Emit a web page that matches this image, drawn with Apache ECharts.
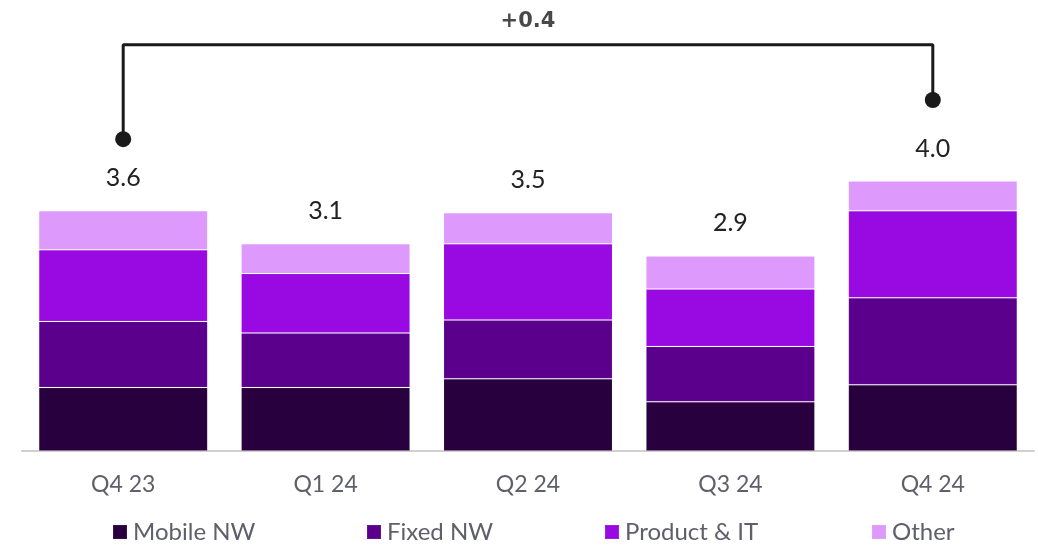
<!DOCTYPE html>
<html>
<head>
<meta charset="utf-8">
<script src="https://cdn.jsdelivr.net/npm/echarts@6/dist/echarts.min.js"></script>
<style>html,body{margin:0;padding:0;background:#fff}#c{width:1038px;height:546px}</style>
</head>
<body>
<div id="c"></div>
<script>
const categories = ['Q4 23', 'Q1 24', 'Q2 24', 'Q3 24', 'Q4 24'];
const mobileNW  = [0.94, 0.94, 1.07, 0.73, 0.98];
const fixedNW   = [0.98, 0.81, 0.87, 0.82, 1.29];
const productIT = [1.06, 0.88, 1.13, 0.85, 1.29];
const other     = [0.58, 0.44, 0.46, 0.49, 0.44];
const totalLabels = ['3.6', '3.1', '3.5', '2.9', '4.0'];
const seriesNames = ['Mobile NW', 'Fixed NW', 'Product & IT', 'Other'];
// bracket annotation: start/end heights and bar level, delta text
const bracketStart = 4.62;
const bracketEnd = 5.2;
const bracketLevel = 6.02;
const deltaLabel = '+0.4';

const FONT = 'Lato, sans-serif';
const colors = ['#29003e', '#5b008c', '#990ae3', '#dd99fc'];
const seriesData = [mobileNW, fixedNW, productIT, other];
const legendLefts = [107, 361, 599, 866];

const chart = echarts.init(document.getElementById('c'), null, {renderer: 'canvas'});
const barSeries = seriesData.map((d, i) => ({
  name: seriesNames[i],
  type: 'bar',
  stack: 'total',
  data: d,
  barWidth: 169,
  itemStyle: {color: colors[i], borderColor: 'rgba(255,255,255,0.08)', borderWidth: 1},
  label: i === 3 ? {
    show: true, position: 'top', distance: 20,
    formatter: p => totalLabels[p.dataIndex],
    color: '#222', fontSize: 25, fontFamily: FONT
  } : {show: false},
  emphasis: {disabled: true}
}));

chart.setOption({
  animation: false,
  grid: {left: 22, right: 4, top: 39.25, bottom: 95},
  xAxis: {
    type: 'category', data: categories,
    axisLine: {show: true, lineStyle: {color: '#d0d0d0', width: 2}},
    axisTick: {show: false},
    axisLabel: {color: '#5f5f6b', fontSize: 23, fontFamily: FONT, margin: 22}
  },
  yAxis: {type: 'value', min: 0, max: 6.1, show: false, splitLine: {show: false}},
  legend: seriesNames.map((n, i) => ({
    data: [n], left: legendLefts[i], top: 515,
    icon: 'rect', itemWidth: 14, itemHeight: 14,
    textStyle: {color: '#5f5f6b', fontSize: 24, fontFamily: FONT, padding: [0, 0, 0, 1]}
  })),
  series: barSeries.concat([
    {
      type: 'line',
      data: [
        {value: [categories[0], bracketStart], symbol: 'circle', symbolSize: 16},
        {value: [categories[0], bracketLevel], symbol: 'none'},
        {value: [categories[4], bracketLevel], symbol: 'none'},
        {value: [categories[4], bracketEnd], symbol: 'circle', symbolSize: 16}
      ],
      lineStyle: {color: '#1a1a1a', width: 3},
      itemStyle: {color: '#1a1a1a'},
      silent: true, z: 5
    },
    {
      type: 'scatter',
      data: [[categories[2], bracketLevel]],
      symbolSize: 0,
      label: {show: true, position: 'top', distance: 13, formatter: deltaLabel,
        color: '#1a1a1a', fontSize: 21, fontWeight: 'bold', fontFamily: '"DejaVu Sans", sans-serif'},
      silent: true
    }
  ])
});
</script>
</body>
</html>
